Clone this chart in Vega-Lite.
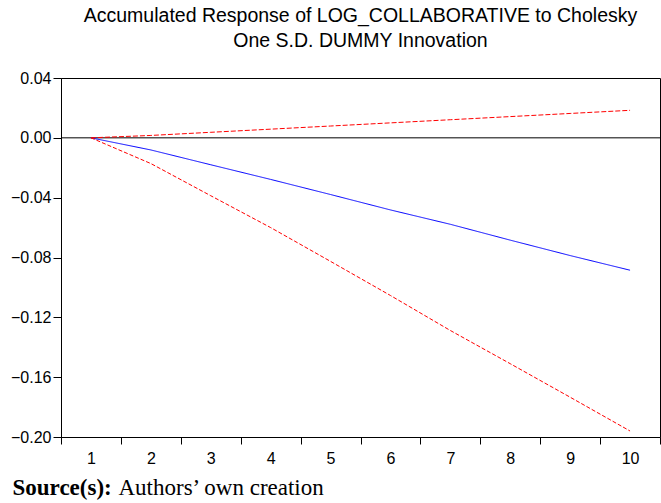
{
  "$schema": "https://vega.github.io/schema/vega-lite/v6.json",
  "width": 599,
  "height": 359,
  "autosize": "none",
  "padding": {"left": 61, "top": 78, "right": 1, "bottom": 66},
  "background": "white",
  "config": {
    "view": {"stroke": "black", "strokeWidth": 1},
    "font": "Liberation Sans"
  },
  "title": {
    "text": ["Accumulated Response of LOG_COLLABORATIVE to Cholesky", "One S.D. DUMMY Innovation"],
    "font": "Liberation Sans",
    "fontSize": 19.5,
    "fontWeight": "normal",
    "color": "black",
    "anchor": "middle",
    "lineHeight": 25,
    "offset": 19
  },
  "data": {
    "values": [
      {"period": 1, "series": "response", "value": 0},
      {"period": 2, "series": "response", "value": -0.0081},
      {"period": 3, "series": "response", "value": -0.018},
      {"period": 4, "series": "response", "value": -0.0278},
      {"period": 5, "series": "response", "value": -0.0379},
      {"period": 6, "series": "response", "value": -0.0482},
      {"period": 7, "series": "response", "value": -0.0578},
      {"period": 8, "series": "response", "value": -0.0684},
      {"period": 9, "series": "response", "value": -0.0787},
      {"period": 10, "series": "response", "value": -0.0885},
      {"period": 1, "series": "upper", "value": 0},
      {"period": 2, "series": "upper", "value": 0.0016},
      {"period": 3, "series": "upper", "value": 0.0037},
      {"period": 4, "series": "upper", "value": 0.0058},
      {"period": 5, "series": "upper", "value": 0.0079},
      {"period": 6, "series": "upper", "value": 0.01},
      {"period": 7, "series": "upper", "value": 0.0121},
      {"period": 8, "series": "upper", "value": 0.0142},
      {"period": 9, "series": "upper", "value": 0.0163},
      {"period": 10, "series": "upper", "value": 0.0184},
      {"period": 1, "series": "lower", "value": 0},
      {"period": 2, "series": "lower", "value": -0.0172},
      {"period": 3, "series": "lower", "value": -0.0387},
      {"period": 4, "series": "lower", "value": -0.06},
      {"period": 5, "series": "lower", "value": -0.0826},
      {"period": 6, "series": "lower", "value": -0.1054},
      {"period": 7, "series": "lower", "value": -0.1288},
      {"period": 8, "series": "lower", "value": -0.151},
      {"period": 9, "series": "lower", "value": -0.1734},
      {"period": 10, "series": "lower", "value": -0.196}
    ]
  },
  "layer": [
    {
      "data": {"values": [{"zero": 0}]},
      "mark": {"type": "rule", "color": "black", "strokeWidth": 1},
      "encoding": {
        "y": {"field": "zero", "type": "quantitative"}
      }
    },
    {
      "mark": {"type": "line", "strokeWidth": 1},
      "encoding": {
        "x": {
          "field": "period",
          "type": "ordinal",
          "scale": {"type": "band", "paddingInner": 0, "paddingOuter": 0},
          "axis": {
            "labelAngle": 0,
            "labelFont": "Liberation Sans",
            "labelFontSize": 16,
            "labelColor": "black",
            "labelPadding": 6,
            "tickBand": "extent",
            "tickSize": 7,
            "tickColor": "black",
            "domainColor": "black",
            "grid": false,
            "title": "Authors’ own creation",
            "titleFont": "Liberation Serif",
            "titleFontSize": 23,
            "titleFontWeight": "normal",
            "titleColor": "black",
            "titleAnchor": "start",
            "titleAlign": "left",
            "titleBaseline": "alphabetic",
            "titleX": 57,
            "titleY": 57
          }
        },
        "y": {
          "field": "value",
          "type": "quantitative",
          "scale": {"domain": [-0.2, 0.04], "nice": false, "zero": false},
          "axis": {
            "values": [-0.2, -0.16, -0.12, -0.08, -0.04, 0, 0.04],
            "format": ".2f",
            "labelFont": "Liberation Sans",
            "labelFontSize": 16,
            "labelColor": "black",
            "labelPadding": 2,
            "tickSize": 8,
            "tickColor": "black",
            "domainColor": "black",
            "grid": false,
            "title": "Source(s):",
            "titleFont": "Liberation Serif",
            "titleFontSize": 23,
            "titleFontWeight": "bold",
            "titleColor": "black",
            "titleAngle": 0,
            "titleAlign": "left",
            "titleBaseline": "alphabetic",
            "titleX": -49,
            "titleY": 416
          }
        },
        "color": {
          "field": "series",
          "type": "nominal",
          "scale": {"domain": ["response", "upper", "lower"], "range": ["#0000ff", "#ff0000", "#ff0000"]},
          "legend": null
        },
        "strokeDash": {
          "field": "series",
          "type": "nominal",
          "scale": {"domain": ["response", "upper", "lower"], "range": [[1, 0], [5, 2], [4, 2]]},
          "legend": null
        }
      }
    }
  ]
}
